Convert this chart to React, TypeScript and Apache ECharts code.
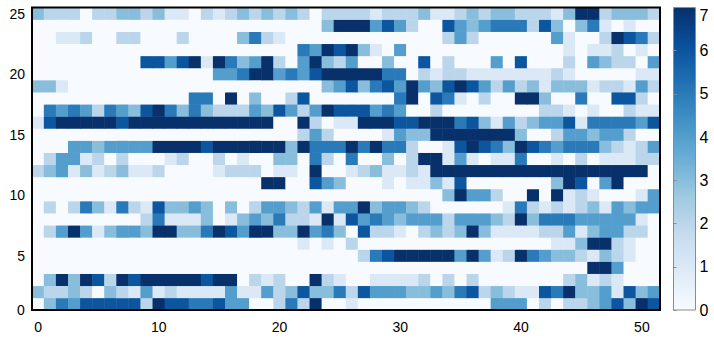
import React, { useEffect, useRef } from "react";
import * as echarts from "echarts";

const columns = Array.from({ length: 52 }, (_, i) => String(i));
const rowNames = Array.from({ length: 25 }, (_, i) => String(i + 1));

const row1 = [0,3,5,4,6,6,6,6,6,2, 7,6,6,5,5,6,4,4,0,0, 2,5,2,7,0,0,1,0,0,0, 0,0,0,0,0,0,0,0,4,4, 4,0,2,0,2,2,3,4,6,3, 7,6];
const row2 = [3,2,2,3,2,0,3,2,1,4, 1,2,1,1,1,1,4,1,1,4, 2,3,6,3,3,5,2,6,4,4, 4,3,3,4,3,5,6,2,3,2, 1,1,6,5,7,3,3,4,1,6, 3,4];
const row3 = [0,3,7,3,7,6,2,7,6,7, 7,7,7,7,6,7,7,0,2,1, 2,0,0,7,2,1,0,0,1,1, 1,1,2,0,2,0,2,0,0,0, 0,0,0,0,2,3,1,2,1,0, 0,0];
const row4 = [0,0,0,0,0,0,0,0,0,0, 0,0,0,0,0,0,0,0,0,0, 0,0,0,0,0,0,0,0,0,0, 0,0,0,0,0,0,0,0,0,0, 0,0,0,0,0,0,7,7,4,0, 0,0];
const row5 = [0,0,0,0,0,0,0,0,0,0, 0,0,0,0,0,0,0,0,0,0, 0,0,0,0,0,0,0,2,5,6, 7,7,7,7,7,4,7,4,1,2, 7,5,4,3,3,2,1,3,2,1, 0,0];
const row6 = [0,0,0,0,0,0,0,0,0,0, 0,0,0,0,0,0,0,0,0,0, 0,0,1,0,1,0,2,0,0,0, 0,0,0,0,0,0,0,0,0,0, 0,0,0,1,1,3,7,7,2,1, 0,0];
const row7 = [0,2,4,7,4,1,3,4,4,3, 7,7,3,3,5,7,6,4,7,7, 3,3,7,4,5,3,0,6,2,2, 1,0,2,3,2,3,7,3,1,1, 1,1,2,2,4,1,3,4,4,2, 2,0];
const row8 = [0,0,0,0,0,0,0,0,0,2, 5,1,1,1,3,0,1,3,4,3, 5,2,2,1,7,1,6,4,5,4, 3,4,4,4,2,4,4,4,3,2, 7,3,5,5,5,4,4,4,4,4, 1,0];
const row9 = [0,2,0,2,5,3,1,5,2,1, 6,3,3,4,3,0,3,0,2,4, 4,3,2,4,1,4,4,7,3,4, 4,3,2,0,0,0,0,0,0,1, 5,2,1,2,1,2,3,1,4,3, 4,4];
const row10 = [0,0,0,0,0,0,0,0,0,0, 0,0,0,0,0,0,0,0,0,0, 0,0,0,0,0,0,0,0,0,0, 0,0,0,0,3,7,4,4,2,0, 0,7,0,7,1,2,1,0,0,0, 1,4];
const row11 = [0,0,0,0,0,0,0,0,0,0, 0,0,0,0,0,0,0,0,0,7, 7,0,0,6,4,3,0,0,0,1, 0,1,1,3,1,6,0,0,0,0, 0,0,0,3,7,6,0,4,7,0, 0,0];
const row12 = [2,3,4,1,3,1,2,3,1,1, 2,0,0,0,0,1,2,2,2,0, 1,1,0,7,0,0,1,2,3,1, 1,2,1,7,7,7,7,7,7,7, 7,7,7,7,7,7,7,7,7,7, 7,0];
const row13 = [0,2,4,4,1,2,0,2,0,0, 0,1,2,0,0,2,0,1,0,0, 3,3,0,5,2,0,5,0,0,3, 0,2,7,7,1,4,1,0,1,1, 5,0,0,1,0,2,0,1,1,1, 2,2];
const row14 = [0,0,0,4,4,3,4,4,4,4, 7,7,7,7,6,7,7,7,7,7, 7,3,7,5,5,5,7,5,7,5, 5,2,0,0,1,6,7,6,5,3, 7,6,5,4,5,5,5,3,2,1, 2,4];
const row15 = [0,0,0,0,0,0,0,0,0,0, 0,0,0,0,0,0,0,0,0,0, 0,0,2,4,2,0,0,0,0,1, 4,3,3,7,7,7,7,7,7,7, 3,0,0,2,4,4,3,4,4,2, 0,0];
const row16 = [1,6,7,7,7,7,7,6,7,7, 7,7,7,7,7,7,7,7,7,7, 0,0,7,2,0,1,1,7,7,7, 6,6,7,7,7,5,6,3,1,4, 2,3,4,4,6,1,5,5,5,5, 4,6];
const row17 = [0,5,4,5,4,2,5,4,3,6, 7,5,3,5,3,2,2,2,4,3, 6,4,2,4,7,6,6,6,4,5, 4,0,0,2,0,0,0,0,0,0, 0,0,2,2,1,0,1,0,0,2, 1,1];
const row18 = [0,0,0,0,0,0,0,0,0,0, 0,0,0,5,5,0,7,0,3,0, 0,2,6,0,0,0,0,0,0,0, 5,7,0,6,5,1,0,2,0,0, 7,7,3,0,0,5,0,0,6,6, 2,0];
const row19 = [3,3,1,0,0,0,0,0,0,0, 0,0,0,0,0,0,0,0,0,0, 0,0,0,0,3,4,6,3,5,6, 4,7,4,3,6,7,6,4,2,4, 2,3,1,3,3,3,1,2,2,1, 4,2];
const row20 = [0,0,0,0,0,0,0,0,0,0, 0,0,0,0,0,4,4,5,7,7, 4,5,4,6,7,7,7,7,7,5, 5,0,2,1,2,2,1,1,1,1, 1,1,1,2,1,0,0,0,0,0, 1,1];
const row21 = [0,0,0,0,0,0,0,0,0,6, 6,4,6,7,1,7,5,3,4,7, 2,0,4,7,3,2,4,0,0,3, 0,0,6,0,2,0,0,0,4,0, 6,0,0,0,2,0,4,3,2,2, 0,4];
const row22 = [0,0,0,0,0,0,0,0,0,0, 0,0,0,0,0,0,0,0,0,0, 0,0,5,4,7,6,7,3,1,0, 4,0,0,0,0,0,0,0,0,0, 0,0,0,0,1,0,1,1,2,0, 1,0];
const row23 = [0,0,1,1,2,0,0,2,2,0, 0,0,2,0,0,0,0,3,5,2, 1,0,0,0,0,0,0,0,0,0, 0,0,0,0,2,4,2,0,0,0, 0,0,0,4,1,0,0,2,7,6, 5,2];
const row24 = [0,0,0,0,0,0,0,0,0,0, 0,0,0,0,0,0,0,0,0,0, 0,0,0,0,3,7,7,7,4,6, 4,2,0,0,6,4,3,4,5,5, 5,2,6,3,0,3,5,1,0,1, 0,0];
const row25 = [3,2,2,2,0,2,2,3,3,2, 3,1,1,0,2,1,2,3,2,3, 2,3,2,0,2,2,2,2,1,2, 2,2,3,1,1,2,3,2,3,3, 2,2,2,1,3,7,7,2,3,3, 3,2];

const rows = [row1,row2,row3,row4,row5,row6,row7,row8,row9,row10,row11,row12,row13,row14,row15,row16,row17,row18,row19,row20,row21,row22,row23,row24,row25];
const blues = ["#f7fbff","#deebf7","#c6dbef","#9ecae1","#6baed6","#4292c6","#2171b5","#08519c","#08306b"];
const FONT = "Liberation Sans";

export default function App() {
  const ref = useRef<HTMLDivElement>(null);
  useEffect(() => {
    const chart = echarts.init(ref.current!, undefined, { renderer: "svg" });
    const data: number[][] = [];
    rows.forEach((r, y) => r.forEach((v, x) => data.push([x, y, v])));
    chart.setOption({
      animation: false,
      backgroundColor: "#fff",
      textStyle: { fontFamily: FONT },
      grid: [
        { left: 32, top: 7.5, width: 628, height: 302.5, show: true, borderColor: "#000", borderWidth: 2, backgroundColor: "transparent", z: 10 },
        { left: 673.5, top: 7.5, width: 22, height: 302.5, show: true, borderColor: "#8c8c8c", borderWidth: 1, backgroundColor: "transparent", z: 10 },
      ],
      xAxis: [
        {
          type: "category", gridIndex: 0, data: columns, z: 11,
          axisLine: { show: false },
          axisTick: { alignWithLabel: true, length: 6, lineStyle: { color: "#000", width: 1.2 }, interval: (i: number) => i % 10 === 0 },
          axisLabel: { color: "#000", fontSize: 14, fontFamily: FONT, margin: 10, interval: (i: number) => i % 10 === 0 },
          splitLine: { show: false }, splitArea: { show: false },
        },
        { type: "value", gridIndex: 1, show: false, min: 0, max: 1 },
      ],
      yAxis: [
        {
          type: "category", gridIndex: 0, data: rowNames, z: 11,
          axisLine: { show: false },
          axisTick: { alignWithLabel: true, length: 6, lineStyle: { color: "#000", width: 1.2 }, interval: (_: number, v: string) => Number(v) % 5 === 0 },
          axisLabel: { color: "#000", fontSize: 14, fontFamily: FONT, margin: 7, interval: (_: number, v: string) => Number(v) % 5 === 0 },
          splitLine: { show: false }, splitArea: { show: false },
        },
        {
          type: "value", gridIndex: 1, position: "right", min: 0, max: 7, interval: 1, z: 11,
          axisLine: { show: false },
          axisTick: { show: true, length: 3, lineStyle: { color: "#8c8c8c" } },
          axisLabel: { color: "#000", fontSize: 16, fontFamily: FONT, margin: 4, verticalAlignMaxLabel: "top" },
          splitLine: { show: false },
        },
      ],
      visualMap: {
        type: "continuous", min: 0, max: 7, seriesIndex: 0, dimension: 2,
        left: 673.5, top: 7.5, itemWidth: 22, itemHeight: 302.5, text: ["", ""],
        calculable: false, hoverLink: false, padding: 0, realtime: false,
        inRange: { color: blues },
      },
      series: [
        {
          type: "heatmap", xAxisIndex: 0, yAxisIndex: 0, data,
          itemStyle: { borderWidth: 0 }, emphasis: { disabled: true }, progressive: 0,
        },
      ],
      graphic: [
        { type: "text", left: 17, top: 303, silent: true, style: { text: "0", fill: "#000", font: `14px "${FONT}"` } },
      ],
    });
    return () => chart.dispose();
  }, []);
  return (
    <div style={{ position: "fixed", left: 0, top: 0, width: 714, height: 338, background: "#fff" }}>
      <div ref={ref} style={{ width: 714, height: 338 }} />
    </div>
  );
}
